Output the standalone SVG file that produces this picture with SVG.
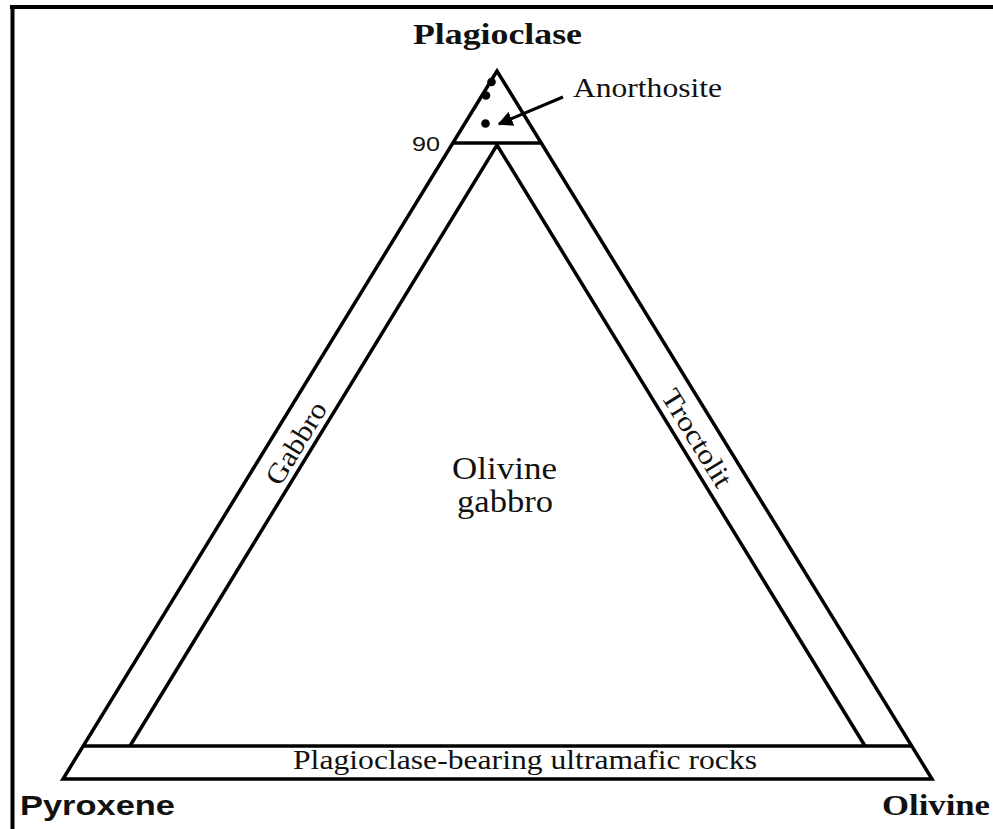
<svg xmlns="http://www.w3.org/2000/svg" width="993" height="829" viewBox="0 0 993 829">
<style>
.ln{fill:none;stroke:#000;stroke-width:3.5;stroke-linejoin:miter;stroke-linecap:butt}
.serif{font-family:"Liberation Serif","Times New Roman",serif;fill:#111}
.sans{font-family:"Liberation Sans",Arial,sans-serif;fill:#111}
.b{font-weight:bold}
.dot{fill:#000}
</style>
<defs>
<marker id="ah" viewBox="0 0 10 10" refX="9" refY="5" markerWidth="5" markerHeight="5" orient="auto" markerUnits="strokeWidth">
<path d="M0,0 L10,5 L0,10 Z" fill="#000"/>
</marker>
</defs>
<rect width="993" height="829" fill="#fff"/>
<g id="frame">
<line x1="10" y1="7" x2="993" y2="7" stroke="#000" stroke-width="4"/>
<line x1="12.5" y1="5" x2="12.5" y2="829" stroke="#000" stroke-width="4"/>
</g>
<g id="diagram">
<polygon class="ln" points="497,71 63,779 932,779"/>
<line class="ln" x1="453" y1="143" x2="541" y2="143"/>
<polyline class="ln" points="130,746 497,145 865,746"/>
<line class="ln" x1="84" y1="746" x2="911" y2="746"/>
</g>
<g id="plagioclase"><text class="serif b" x="413" y="44" font-size="30" textLength="169" lengthAdjust="spacingAndGlyphs">Plagioclase</text></g>
<g id="pyroxene"><text class="sans b" x="20" y="815" font-size="28" textLength="155" lengthAdjust="spacingAndGlyphs">Pyroxene</text></g>
<g id="olivine"><text class="serif b" x="882" y="815" font-size="30" textLength="108" lengthAdjust="spacingAndGlyphs">Olivine</text></g>
<g id="tick90"><text class="sans" x="412" y="151" font-size="21" textLength="28" lengthAdjust="spacingAndGlyphs">90</text></g>
<g id="anorthosite">
<circle class="dot" cx="491.5" cy="82" r="4.3"/>
<circle class="dot" cx="486" cy="95.5" r="4.3"/>
<circle class="dot" cx="485.5" cy="123.5" r="4.3"/>
<text class="serif" x="573" y="97" font-size="27" textLength="149" lengthAdjust="spacingAndGlyphs">Anorthosite</text>
</g>
<g id="olivine-gabbro">
<text class="serif" x="452" y="479" font-size="31" textLength="105" lengthAdjust="spacingAndGlyphs">Olivine</text>
<text class="serif" x="457" y="512" font-size="31" textLength="96" lengthAdjust="spacingAndGlyphs">gabbro</text>
</g>
<g id="gabbro"><text class="serif" transform="translate(296,443) rotate(-58.5)" x="0" y="0" dominant-baseline="central" text-anchor="middle" font-size="28" textLength="92" lengthAdjust="spacingAndGlyphs">Gabbro</text></g>
<g id="troctolit"><text class="serif" transform="translate(697,438) rotate(58.5)" x="0" y="0" dominant-baseline="central" text-anchor="middle" font-size="28" textLength="110" lengthAdjust="spacingAndGlyphs">Troctolit</text></g>
<g id="ultramafic"><text class="serif" x="293" y="769" font-size="27" textLength="464" lengthAdjust="spacingAndGlyphs">Plagioclase-bearing ultramafic rocks</text></g>
<g id="connectors">
<line x1="563" y1="97" x2="499" y2="124" stroke="#000" stroke-width="3" marker-end="url(#ah)"/>
</g>
</svg>
